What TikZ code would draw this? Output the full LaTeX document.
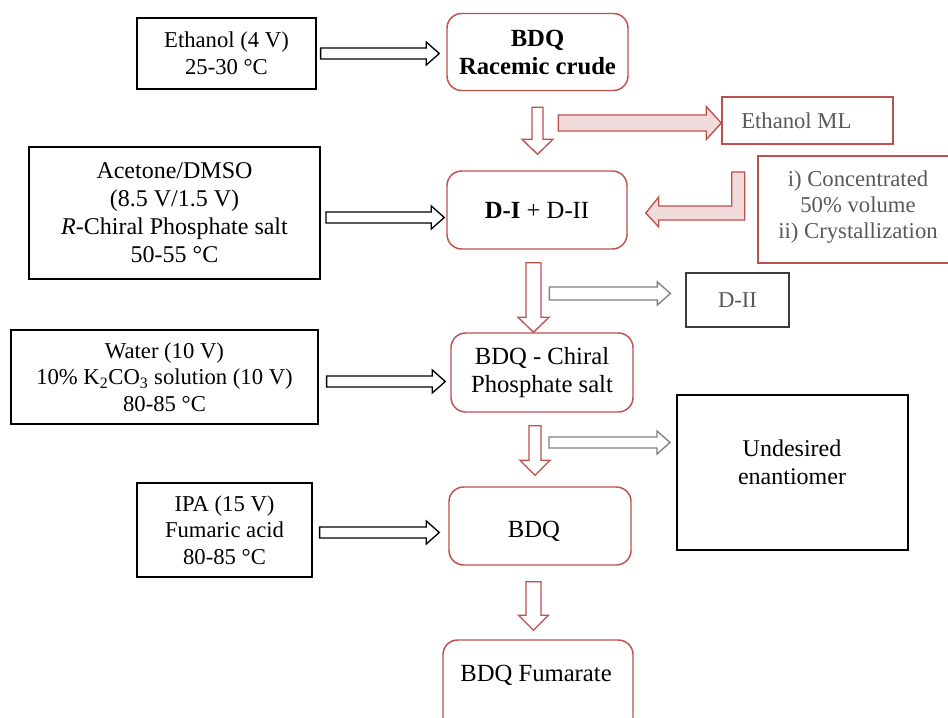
\documentclass[tikz,border=0pt]{standalone}
\usepackage{fontspec}
\setmainfont{Liberation Serif}
\newfontfamily\tnr{Liberation Serif}
\usetikzlibrary{calc}
\definecolor{bred}{RGB}{192,80,77}
\definecolor{bpink}{RGB}{242,220,219}
\definecolor{tgray}{RGB}{89,89,89}
\definecolor{agray}{RGB}{128,128,128}
\definecolor{dgray}{RGB}{60,60,60}
% horizontal block arrow: style, start, tip, shaft half, head half (head length 13)
\newcommand\harrow[5]{\draw[#1] ($#2+(0,-#4)$) -- ($#3+(-13,-#4)$) -- ($#3+(-13,-#5)$) -- #3 -- ($#3+(-13,#5)$) -- ($#3+(-13,#4)$) -- ($#2+(0,#4)$) -- cycle;}
% vertical block arrow (downwards): style, start, tip, shaft half, head half (head length 15)
\newcommand\varrow[5]{\draw[#1] ($#2+(-#4,0)$) -- ($#3+(-#4,-15)$) -- ($#3+(-#5,-15)$) -- #3 -- ($#3+(#5,-15)$) -- ($#3+(#4,-15)$) -- ($#2+(#4,0)$) -- cycle;}
\begin{document}
\begin{tikzpicture}[x=0.75pt,y=-0.75pt,
  wh/.style 2 args={minimum width={#1*0.75pt},minimum height={#2*0.75pt}},
  sidebox/.style={draw=black,line width=0.9pt,inner sep=0pt,align=center,font=\tnr\fontsize{17}{20}\selectfont},
  mainbox/.style={draw=bred,line width=1.1pt,rounded corners=11pt,inner sep=0pt,align=center,font=\tnr\fontsize{18.5}{21}\selectfont},
  outbox/.style={draw=bred,line width=1.1pt,inner sep=0pt},
  outtext/.style={text=tgray,align=center,inner sep=0pt,font=\tnr\fontsize{17}{19.5}\selectfont},
  maintext/.style={align=center,inner sep=0pt,font=\tnr\fontsize{18.5}{21}\selectfont},
  blkarrow/.style={draw=black,fill=white,line width=1pt},
  redarrow/.style={draw=bred,fill=white,line width=1pt},
  pinkarrow/.style={draw=bred,fill=bpink,line width=1pt},
  grayarrow/.style={draw=agray,fill=white,line width=1pt}]
\useasboundingbox (0,0) rectangle (948,717);
\clip (0,0) rectangle (948,717);
\fill[white] (0,0) rectangle (948,717);

% left input boxes
\node[sidebox, wh={179}{71}] (eth) at (226.5,53.5) {Ethanol (4 V)\\25-30 °C};
\node[sidebox, line width=1.5pt, font=\tnr\fontsize{18}{21}\selectfont, wh={291}{132}] (ace) at (174.5,213) {Acetone/DMSO\\(8.5 V/1.5 V)\\\textit{R}-Chiral Phosphate salt\\50-55 °C};
\node[sidebox, wh={307}{94}] (wat) at (164.5,377) {Water (10 V)\\10\% K\textsubscript{2}CO\textsubscript{3} solution (10 V)\\80-85 °C};
\node[sidebox, wh={175}{94}] (ipa) at (224.5,530) {IPA (15 V)\\Fumaric acid\\80-85 °C};

% main flow boxes
\node[mainbox, font=\tnr\bfseries\fontsize{18.5}{21}\selectfont, wh={181}{77}] (rac) at (537.5,52) {BDQ\\Racemic crude};
\node[mainbox, wh={180}{78}] (di) at (537,210) {\textbf{D-I} + D-II};
\node[mainbox, wh={182}{79}] (chi) at (542,372.5) {BDQ - Chiral\\Phosphate salt};
\node[mainbox, wh={182}{78}] (bdq) at (540,526) {};
\node[maintext] (bdqt) at (534,531) {BDQ};
\node[mainbox, wh={190}{100}] (fum) at (538,690) {};
\node[maintext] (fumt) at (536,675) {BDQ Fumarate};

% right side boxes
\node[outbox, wh={171}{47}] (etml) at (807.5,120.5) {};
\node[outtext, anchor=west] (etmlt) at (741,121) {Ethanol ML};
\node[outbox, wh={200}{107}] (conc) at (858,209.5) {};
\node[outtext] (conct) at (858,207) {i) Concentrated\\50\% volume\\ii) Crystallization};
\node[draw=dgray, line width=0.9pt, inner sep=0pt, text=tgray, font=\tnr\fontsize{17}{20}\selectfont, wh={103}{54}] (dii) at (737.5,300) {D-II};
\node[draw=black, line width=1.5pt, inner sep=0pt, wh={231}{155}] (und) at (792.5,472.5) {};
\node[maintext, font=\tnr\fontsize{18}{21}\selectfont] (undt) at (792,462) {Undesired\\enantiomer};

% black input arrows
\coordinate (a1s) at ($(eth.east)+(4,0)$);
\coordinate (a1t) at ($(rac.west |- a1s)+(-7,0)$);
\harrow{blkarrow}{(a1s)}{(a1t)}{5.5}{11.5}
\coordinate (a2s) at ($(ace.east)+(5,4.5)$);
\coordinate (a2t) at ($(di.west |- a2s)+(-2,0)$);
\harrow{blkarrow}{(a2s)}{(a2t)}{5.5}{11.5}
\coordinate (a3s) at ($(wat.east)+(8,4.5)$);
\coordinate (a3t) at ($(chi.west |- a3s)+(-5,0)$);
\harrow{blkarrow}{(a3s)}{(a3t)}{5.5}{11.5}
\coordinate (a4s) at ($(ipa.east)+(7,2.5)$);
\coordinate (a4t) at ($(bdq.west |- a4s)+(-9,0)$);
\harrow{blkarrow}{(a4s)}{(a4t)}{5.5}{11.5}

% red down arrows
\coordinate (v1s) at ($(rac.south)+(0,16)$);
\coordinate (v1t) at ($(v1s |- di.north)+(0,-16)$);
\varrow{redarrow}{(v1s)}{(v1t)}{5.5}{15.5}
\coordinate (v2s) at ($(di.south)+(-3.5,13)$);
\coordinate (v2t) at (v2s |- chi.north);
\varrow{redarrow}{(v2s)}{(v2t)}{7.5}{15.5}
\coordinate (v3s) at ($(chi.south)+(-7,13)$);
\coordinate (v3t) at ($(v3s |- bdq.north)+(0,-11)$);
\varrow{redarrow}{(v3s)}{(v3t)}{6}{15}
\coordinate (v4s) at ($(bdq.south)+(-6.5,16)$);
\coordinate (v4t) at ($(v4s |- fum.north)+(0,-9)$);
\varrow{redarrow}{(v4s)}{(v4t)}{7.5}{15}

% pink arrow to Ethanol ML
\coordinate (p1t) at ($(etml.west)+(0,2.5)$);
\coordinate (p1s) at ($(p1t)+(-163,0)$);
\draw[pinkarrow] ($(p1s)+(0,-8)$) -- ($(p1t)+(-15,-8)$) -- ($(p1t)+(-15,-16.5)$) -- (p1t) -- ($(p1t)+(-15,16.5)$) -- ($(p1t)+(-15,8)$) -- ($(p1s)+(0,8)$) -- cycle;

% bent pink arrow back to D-I + D-II
\coordinate (bt) at ($(di.east)+(18,3)$);
\draw[pinkarrow] ($(bt)+(86,-41)$) -- ($(bt)+(99,-41)$) -- ($(bt)+(99,7)$) -- ($(bt)+(13,7)$) -- ($(bt)+(13,14)$) -- (bt) -- ($(bt)+(13,-16)$) -- ($(bt)+(13,-7)$) -- ($(bt)+(86,-7)$) -- cycle;

% gray side arrows
\coordinate (g1t) at ($(dii.west)+(-15,-6.5)$);
\coordinate (g1s) at ($(g1t)+(-121,0)$);
\harrow{grayarrow}{(g1s)}{(g1t)}{6.5}{11.5}
\coordinate (g2t) at ($(und.west)+(-6,-30)$);
\coordinate (g2s) at ($(g2t)+(-121,0)$);
\harrow{grayarrow}{(g2s)}{(g2t)}{5.5}{11.5}
\end{tikzpicture}
\end{document}
